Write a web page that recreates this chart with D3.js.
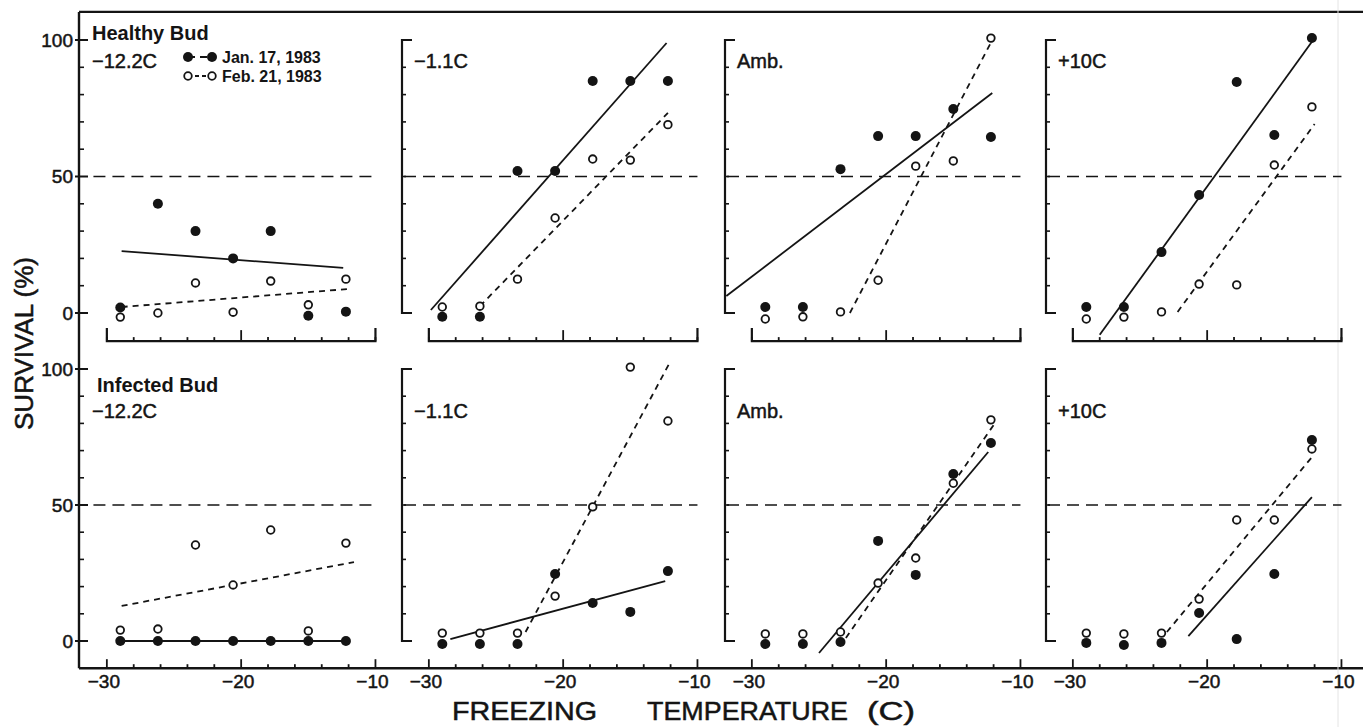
<!DOCTYPE html>
<html>
<head>
<meta charset="utf-8">
<script src="https://cdn.jsdelivr.net/npm/d3@7"></script>
<style>
  body { margin: 0; background: #fff; }
  svg { display: block; font-family: "Liberation Sans", Arial, sans-serif; }
  .heavy { stroke: #141414; stroke-width: 0.5px; }
</style>
</head>
<body>
<svg id="chart" width="1363" height="727"></svg>
<script>
// ---- data ----
const temps = [-29, -26.2, -23.4, -20.6, -17.8, -15, -12.2];
const panelNames = ["−12.2C", "−1.1C", "Amb.", "+10C"];
const rowNames = ["Healthy Bud", "Infected Bud"];
const dates = ["Jan. 17, 1983", "Feb. 21, 1983"];

// survival (%) per storage panel, healthy buds
const healthyJan = [
  [2, 40, 30, 20, 30, -1, 0.5],
  [-1.4, -1.4, 52, 52, 85, 85, 85],
  [2.2, 2.2, 52.7, 64.8, 64.8, 74.7, 64.5],
  [2.2, 2.2, 22.3, 43.2, 84.6, 65.2, 100.7]
];
const healthyFeb = [
  [-1.5, 0, 11, 0.3, 11.7, 3, 12.4],
  [2.2, 2.5, 12.4, 34.8, 56.4, 56, 69],
  [-2.2, -1.4, 0.4, 12, 53.8, 55.7, 100.7],
  [-2.2, -1.5, 0.4, 10.6, 10.3, 54.2, 75.5]
];
// infected buds
const infectedJan = [
  [0, 0, 0, 0, 0, 0, 0],
  [-1.1, -1.1, -1.1, 24.6, 14, 10.7, 25.7],
  [-1.1, -1.1, -0.4, 36.8, 24.3, 61.4, 72.8],
  [-0.7, -1.5, -0.7, 10.3, 0.7, 24.6, 73.9]
];
const infectedFeb = [
  [4, 4.4, 35.3, 20.6, 40.8, 3.7, 36],
  [2.9, 2.9, 2.9, 16.5, 49.3, 100.7, 80.9],
  [2.6, 2.6, 3.3, 21.3, 30.5, 58, 81.3],
  [2.9, 2.6, 2.9, 15.4, 44.5, 44.5, 70.6]
];

// fitted lines [t1, s1, t2, s2]
const healthyJanFit = [[-28.9, 22.7, -12.4, 16.5], [-29.85, 1.1, -12.3, 98.9], [-31.9, 6.2, -12.1, 80.6], [-28, -8, -12, 100.7]];
const healthyFebFit = [[-28.9, 2.2, -12, 8.8], [-26.2, 2.5, -12.2, 73.3], [-22.7, 0, -12.1, 100], [-22.2, 0.4, -12, 69.2]];
const infectedJanFit = [[-28.9, 0, -12.2, 0], [-28.4, 0.7, -12.4, 22], [-25, -4.4, -12.4, 69.5], [-21.4, 1.8, -12.2, 52.9]];
const infectedFebFit = [[-28.9, 12.9, -11.6, 29], [-22.8, 3.3, -12.1, 102], [-23, 1.1, -12, 79.4], [-23, 3.3, -12.2, 67.6]];

const xTicks = [-30, -20, -10];
const yTicks = [0, 50, 100];
const halfLine = 50;

// ---- layout ----
const svg = d3.select("#chart");
const ink = "#141414";
const colLeft = [80, 402, 725, 1046];
const unit = 13.43;

svg.append("rect").attr("width", 1363).attr("height", 727).attr("fill", "#fff");

const xScales = colLeft.map(x0 => d3.scaleLinear().domain([-32, -10]).range([x0, x0 + 22 * unit]));
const yScales = [
  d3.scaleLinear().domain([0, 100]).range([313, 40]),
  d3.scaleLinear().domain([0, 100]).range([641, 369])
];

const rows = [
  { jan: healthyJan, feb: healthyFeb, janFit: healthyJanFit, febFit: healthyFebFit },
  { jan: infectedJan, feb: infectedFeb, janFit: infectedJanFit, febFit: infectedFebFit }
];

// outer frame: top rule, long left axis, bottom axis
const yT = yScales[0], yB = yScales[1];
const bottomY = yB(-10);
svg.append("line").attr("x1", 79).attr("x2", 1363).attr("y1", yT(110.3)).attr("y2", yT(110.3))
  .attr("stroke", ink).attr("stroke-width", 2.4);
svg.append("line").attr("x1", 79).attr("x2", 79).attr("y1", yT(110.3)).attr("y2", bottomY)
  .attr("stroke", ink).attr("stroke-width", 2.4);
svg.append("line").attr("x1", 79).attr("x2", 1363).attr("y1", bottomY).attr("y2", bottomY)
  .attr("stroke", ink).attr("stroke-width", 2.4);
// faint scan edge
svg.append("line").attr("x1", 1338).attr("x2", 1338).attr("y1", 0).attr("y2", 727)
  .attr("stroke", "#e4e4e4").attr("stroke-width", 1);

const minorY = d3.range(10, 100, 10);
const minorX = d3.range(-30, -9, 2);

rows.forEach((row, r) => {
  const y = yScales[r];
  xScales.forEach((x, c) => {
    const g = svg.append("g");
    const x0 = x(-32);

    // y axis
    if (c === 0) {
      g.selectAll(".maj").data(yTicks).join("line")
        .attr("x1", x0 - 5).attr("x2", x0 + 8)
        .attr("y1", d => y(d)).attr("y2", d => y(d))
        .attr("stroke", ink).attr("stroke-width", 2);
      g.selectAll(".min").data(minorY.filter(d => d !== 50)).join("line")
        .attr("x1", x0).attr("x2", x0 + 4)
        .attr("y1", d => y(d)).attr("y2", d => y(d))
        .attr("stroke", ink).attr("stroke-width", 1.6);
      g.selectAll(".ylab").data(yTicks).join("text")
        .attr("class", "heavy")
        .attr("x", x0 - 7).attr("y", d => y(d)).attr("dy", "0.36em")
        .attr("text-anchor", "end").attr("font-size", 19).attr("fill", ink)
        .text(d => d);
    } else {
      g.append("path")
        .attr("d", `M${x0 + 10},${y(100)}H${x0}V${y(0)}H${x0 + 10}`)
        .attr("fill", "none").attr("stroke", ink).attr("stroke-width", 2.2);
      g.selectAll(".min").data(minorY).join("line")
        .attr("x1", x0).attr("x2", x0 + 4)
        .attr("y1", d => y(d)).attr("y2", d => y(d))
        .attr("stroke", ink).attr("stroke-width", 1.6);
    }

    // x axis
    if (r === 0) {
      const ay = y(-10.3);
      g.append("path")
        .attr("d", `M${x(-30)},${ay - 13}V${ay}H${x(-10)}V${ay - 13}`)
        .attr("fill", "none").attr("stroke", ink).attr("stroke-width", 2.2);
      g.selectAll(".xt").data(minorX).join("line")
        .attr("x1", d => x(d)).attr("x2", d => x(d))
        .attr("y1", ay).attr("y2", d => ay - (d === -20 ? 11 : 4))
        .attr("stroke", ink).attr("stroke-width", 1.8);
    } else {
      g.selectAll(".xt").data(minorX).join("line")
        .attr("x1", d => x(d)).attr("x2", d => x(d))
        .attr("y1", bottomY).attr("y2", d => bottomY - (xTicks.includes(d) ? 9 : 4))
        .attr("stroke", ink).attr("stroke-width", 1.8);
      g.selectAll(".xlab").data(xTicks).join("text")
        .attr("class", "heavy")
        .attr("x", d => x(d) - 3).attr("y", bottomY + 20)
        .attr("text-anchor", "middle").attr("font-size", 19).attr("fill", ink)
        .text(d => d < 0 ? "−" + Math.abs(d) : d);
    }

    // 50 % reference
    g.append("line")
      .attr("x1", c === 0 ? x(-31) : x0 + 2).attr("x2", x(-10))
      .attr("y1", y(halfLine)).attr("y2", y(halfLine))
      .attr("stroke", ink).attr("stroke-width", 1.6).attr("stroke-dasharray", "12,7");

    // fitted lines
    const fits = [{ f: row.janFit[c], dash: null }, { f: row.febFit[c], dash: "6,5" }];
    fits.forEach(({ f, dash }) => {
      g.append("line")
        .attr("x1", x(f[0])).attr("y1", y(f[1]))
        .attr("x2", x(f[2])).attr("y2", y(f[3]))
        .attr("stroke", ink).attr("stroke-width", 1.8)
        .attr("stroke-dasharray", dash);
    });

    // points
    g.selectAll(".feb").data(row.feb[c]).join("circle")
      .attr("cx", (d, i) => x(temps[i])).attr("cy", d => y(d))
      .attr("r", 3.8).attr("fill", "#fff").attr("stroke", ink).attr("stroke-width", 1.8);
    g.selectAll(".jan").data(row.jan[c]).join("circle")
      .attr("cx", (d, i) => x(temps[i])).attr("cy", d => y(d))
      .attr("r", 5).attr("fill", ink);

    // panel label
    g.append("text")
      .attr("class", "heavy")
      .attr("x", x0 + 12).attr("y", r === 0 ? 68 : 418)
      .attr("font-size", 20).attr("fill", ink)
      .text(panelNames[c]);
  });
});

// row titles
svg.append("text").attr("x", 92).attr("y", 40).attr("font-size", 20).attr("font-weight", "bold")
  .attr("fill", ink).text(rowNames[0]);
svg.append("text").attr("x", 97).attr("y", 392).attr("font-size", 20).attr("font-weight", "bold")
  .attr("fill", ink).text(rowNames[1]);

// legend
const legend = svg.append("g");
dates.forEach((d, i) => {
  const ly = 57 + i * 19;
  legend.append("line").attr("x1", 188).attr("x2", 212).attr("y1", ly).attr("y2", ly)
    .attr("stroke", ink).attr("stroke-width", 1.8).attr("stroke-dasharray", i === 0 ? "7,5" : "4,3");
  [188, 212].forEach(cx => {
    legend.append("circle").attr("cx", cx).attr("cy", ly)
      .attr("r", i === 0 ? 5 : 3.8)
      .attr("fill", i === 0 ? ink : "#fff")
      .attr("stroke", i === 0 ? "none" : ink).attr("stroke-width", 1.8);
  });
  legend.append("text").attr("x", 222).attr("y", ly + 6)
    .attr("font-size", 16).attr("font-weight", "bold").attr("fill", ink).text(d);
});

// axis titles
svg.append("text")
  .attr("class", "heavy")
  .attr("transform", "translate(33,343.5) rotate(-90)")
  .attr("text-anchor", "middle").attr("font-size", 25).attr("fill", ink)
  .attr("textLength", 173).attr("lengthAdjust", "spacingAndGlyphs")
  .text("SURVIVAL  (%)");

const xTitle = [
  { t: "FREEZING", x: 452, w: 145 },
  { t: "TEMPERATURE", x: 647, w: 201 },
  { t: "(C)", x: 867, w: 48 }
];
svg.selectAll(".xtitle").data(xTitle).join("text")
  .attr("class", "heavy")
  .attr("x", d => d.x).attr("y", 720)
  .attr("font-size", 26).attr("fill", ink)
  .attr("textLength", d => d.w).attr("lengthAdjust", "spacingAndGlyphs")
  .text(d => d.t);
</script>
</body>
</html>
